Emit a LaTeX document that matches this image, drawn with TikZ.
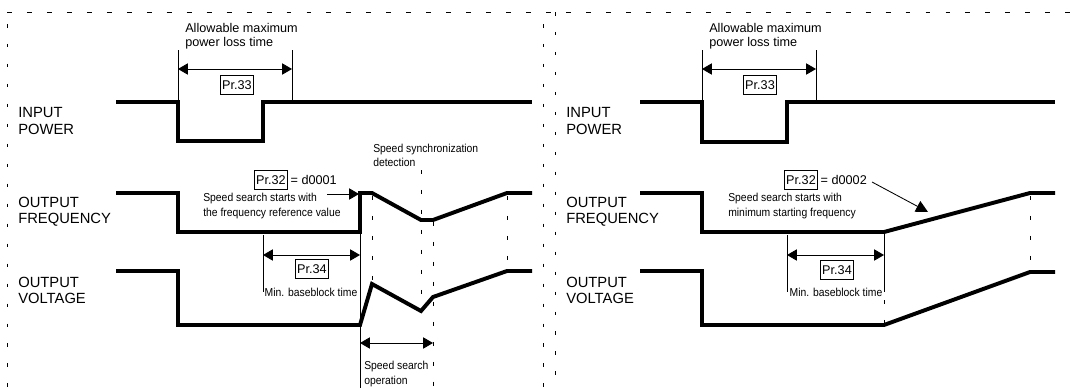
\documentclass[tikz,border=0pt]{standalone}
\usepackage{fontspec}
\setmainfont{Liberation Sans}
\newfontfamily\narrowsf[FakeStretch=0.9]{Liberation Sans}
\usetikzlibrary{positioning, arrows.meta}

\begin{document}
\begin{tikzpicture}[
    x=0.025cm, y=-0.025cm,
    >={Triangle[length=7pt, width=8pt]},
    wave/.style={line width=2.8pt, line join=miter},
    thinline/.style={line width=0.6pt},
    dimarrow/.style={<->, line width=0.6pt},
    guide/.style={line width=0.6pt, dash pattern=on 3pt off 11.2pt},
    frame/.style={line width=0.7pt, dash pattern=on 2.5pt off 11.7pt},
    topframe/.style={line width=0.7pt, dash pattern=on 3.5pt off 10.7pt},
    signal/.style={font=\fontsize{10.5}{11.5}\selectfont, align=left, anchor=west, inner sep=0pt},
    caption/.style={font=\fontsize{9}{10}\selectfont, align=left, anchor=west, inner sep=0pt},
    note/.style={font=\narrowsf\fontsize{8.2}{10}\selectfont, align=left, inner sep=0pt},
    prbox/.style={draw, line width=0.6pt, font=\fontsize{9}{10}\selectfont, inner sep=1.5pt, minimum height=13.5pt}
]

\useasboundingbox (0,0) rectangle (1084,388);

% -------------------------
% Dashed frames
% -------------------------
\draw[topframe] (7,12) -- (1084,12);
\draw[frame] (7,24) -- (7,388);
\draw[frame] (543,24) -- (543,388);
\draw[frame] (555,12) -- (555,388);

% =========================
% Left panel: Pr.32 = d0001
% =========================

% Signal names
\node[signal] (inL) at (18,121) {INPUT\\POWER};
\node[signal] (frL) at (18,212) {OUTPUT\\FREQUENCY};
\node[signal] (vlL) at (18,290) {OUTPUT\\VOLTAGE};

% Waveforms
\draw[wave] (116,102) -- (178,102) -- (178,141) -- (263,141) -- (263,102) -- (532,102);
\draw[wave] (116,193) -- (178,193) -- (178,232) -- (360,232) -- (360,193) -- (372,193)
    -- (421,220) -- (433,220) -- (507,193) -- (532,193);
\draw[wave] (116,271) -- (178,271) -- (178,325) -- (360,325) -- (372,284)
    -- (421,311) -- (433,297) -- (507,271) -- (532,271);

% Allowable maximum power loss time
\node[caption] (allowL) at (185,36) {Allowable maximum\\power loss time};
\draw[thinline] (178,50) -- (178,102);
\draw[thinline] (292,50) -- (292,102);
\coordinate (p33La) at (178,69);
\coordinate (p33Lb) at (292,69);
\draw[dimarrow] (p33La) -- (p33Lb);
\node[prbox] (pr33L) at (237,85) {Pr.33};

% Pr.32 setting
\node[prbox] (pr32L) at (271,180) {Pr.32};
\node[caption, right=1.5pt of pr32L] (d1) {= d0001};
\node[note, anchor=west] (startL) at (203,206) {Speed search starts with\\the frequency reference value};
\coordinate (s32La) at (327,194);
\coordinate (s32Lb) at (359,194);
\draw[->, thinline] (s32La) -- (s32Lb);

% Speed synchronization detection
\node[note, anchor=west] (sync) at (373,155) {Speed synchronization\\detection};

% Min. baseblock time
\draw[thinline] (263,235) -- (263,292);
\draw[thinline] (360,232) -- (360,388);
\coordinate (p34La) at (263,255);
\coordinate (p34Lb) at (360,255);
\draw[dimarrow] (p34La) -- (p34Lb);
\node[prbox] (pr34L) at (312,269) {Pr.34};
\node[note] (minL) at (311,292) {Min. baseblock time};

% Guide lines
\draw[guide] (372,196) -- (372,285);
\draw[guide] (421,170) -- (421,311);
\draw[guide] (433,222) -- (433,388);
\draw[guide] (507,196) -- (507,272);

% Speed search operation
\coordinate (ssa) at (360,343);
\coordinate (ssb) at (433,343);
\draw[dimarrow] (ssa) -- (ssb);
\node[note, anchor=west] (ssop) at (364,374) {Speed search\\operation};

% =========================
% Right panel: Pr.32 = d0002
% =========================

% Signal names
\node[signal] (inR) at (566,121) {INPUT\\POWER};
\node[signal] (frR) at (566,212) {OUTPUT\\FREQUENCY};
\node[signal] (vlR) at (566,290) {OUTPUT\\VOLTAGE};

% Waveforms
\draw[wave] (640,102) -- (702,102) -- (702,142) -- (787,142) -- (787,102) -- (1055,102);
\draw[wave] (640,193) -- (702,193) -- (702,232) -- (884,232) -- (1030,193) -- (1055,193);
\draw[wave] (640,271) -- (702,271) -- (702,325) -- (884,325) -- (1030,272) -- (1055,272);

% Allowable maximum power loss time
\node[caption] (allowR) at (709,36) {Allowable maximum\\power loss time};
\draw[thinline] (702,50) -- (702,102);
\draw[thinline] (816,50) -- (816,102);
\coordinate (p33Ra) at (702,69);
\coordinate (p33Rb) at (816,69);
\draw[dimarrow] (p33Ra) -- (p33Rb);
\node[prbox] (pr33R) at (760,85) {Pr.33};

% Pr.32 setting
\node[prbox] (pr32R) at (801,180) {Pr.32};
\node[caption, right=1.5pt of pr32R] (d2) {= d0002};
\node[note, anchor=west] (startR) at (728,206) {Speed search starts with\\minimum starting frequency};
\coordinate (s32Ra) at (872,182);
\coordinate (s32Rb) at (928,212);
\draw[-{Triangle[length=8.5pt, width=8.5pt]}, thinline] (s32Ra) -- (s32Rb);

% Min. baseblock time
\draw[thinline] (787,235) -- (787,292);
\draw[thinline] (884,232) -- (884,292);
\coordinate (p34Ra) at (787,255);
\coordinate (p34Rb) at (884,255);
\draw[dimarrow] (p34Ra) -- (p34Rb);
\node[prbox] (pr34R) at (837,270) {Pr.34};
\node[note] (minR) at (836,292) {Min. baseblock time};

% Guide lines
\draw[guide] (884,300) -- (884,325);
\draw[guide] (1030,196) -- (1030,272);

\end{tikzpicture}
\end{document}
